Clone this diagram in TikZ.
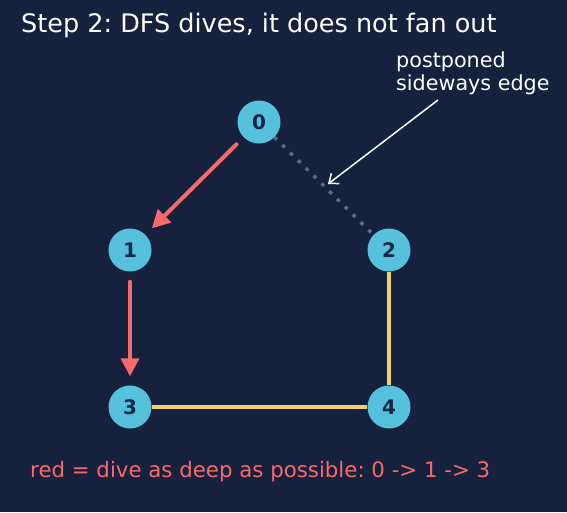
\documentclass[tikz,border=0pt]{standalone}
\usepackage{fontspec}
\setmainfont{DejaVu Sans}
\usetikzlibrary{arrows.meta}
\definecolor{bg}{HTML}{16213E}
\definecolor{nodefill}{HTML}{56C1DC}
\definecolor{nodetext}{HTML}{16274A}
\definecolor{dive}{HTML}{F76A6A}
\definecolor{tree}{HTML}{F2D06B}
\definecolor{postp}{HTML}{5E6B85}
\tikzset{
  vert/.style={circle, fill=nodefill, minimum size=43pt, inner sep=0pt, text=nodetext, font=\bfseries\fontsize{20}{24}\selectfont},
  divearrow/.style={draw=dive, line width=4pt, line cap=round, -{Triangle[length=18pt,width=18pt]}, shorten <=10pt, shorten >=9pt},
  treeedge/.style={draw=tree, line width=3.5pt},
  postponed/.style={draw=postp, line width=3.5pt, dash pattern=on 3.5pt off 7.5pt},
  note/.style={draw=white, line width=1.5pt, -{Straight Barb[length=8pt,width=13pt]}}
}
\begin{document}
\frenchspacing
\begin{tikzpicture}[x=1pt,y=-1pt]
\fill[bg] (0,0) rectangle (567,512);
\useasboundingbox (0,0) rectangle (567,512);
\node[anchor=base west, text=white, inner sep=0pt, font=\fontsize{25.5}{30}\selectfont] (title) at (21,32) {Step 2: DFS dives, it does not fan out};
\node[vert] (n0) at (259,122) {0};
\node[vert] (n1) at (130,250) {1};
\node[vert] (n2) at (389,250) {2};
\node[vert] (n3) at (130,407) {3};
\node[vert] (n4) at (389,407) {4};
\draw[treeedge] (n3) -- (n4);
\draw[treeedge] (n2) -- (n4);
\draw[postponed] (n0) -- (n2);
\draw[divearrow] (n0) -- (n1);
\draw[divearrow] (n1) -- (n3);
\node[anchor=north west, align=left, text=white, font=\fontsize{20.7}{23}\selectfont, inner sep=0pt] (lbl) at (396,52) {postponed\\sideways edge};
\coordinate (tip) at (328,184);
\coordinate (tail) at (438,100);
\draw[note] (tail) -- (tip);
\node[anchor=base west, text=dive, font=\fontsize{21.3}{24}\selectfont, inner sep=0pt] (cap) at (30,477) {red = dive as deep as possible: 0 -> 1 -> 3};
\end{tikzpicture}
\end{document}
